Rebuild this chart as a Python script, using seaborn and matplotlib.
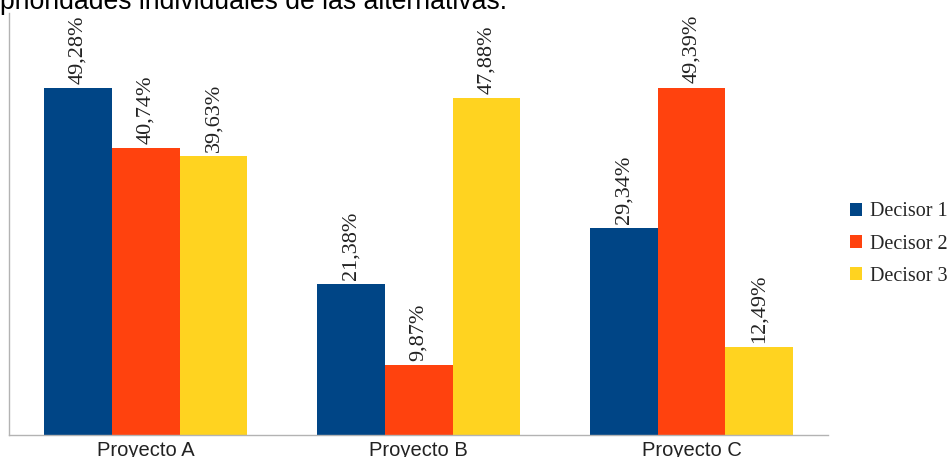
import matplotlib
matplotlib.use("Agg")
import matplotlib.pyplot as plt
from matplotlib.patches import Patch
import seaborn as sns
import pandas as pd

proyectos = ["Proyecto A", "Proyecto B", "Proyecto C"]
decisores = ["Decisor 1", "Decisor 2", "Decisor 3"]
decisor_1 = [49.28, 21.38, 29.34]
decisor_2 = [40.74, 9.87, 49.39]
decisor_3 = [39.63, 47.88, 12.49]
colores = ["#004586", "#ff420e", "#ffd320"]
titulo = "prioridades individuales de las alternativas."

sns.set_style("white")
plt.rcParams["font.family"] = ["Liberation Sans", "DejaVu Sans"]

rows = []
for dec, vals in zip(decisores, [decisor_1, decisor_2, decisor_3]):
    for p, v in zip(proyectos, vals):
        rows.append({"proyecto": p, "decisor": dec, "valor": v})
df = pd.DataFrame(rows)

fig = plt.figure(figsize=(9.5, 4.57), dpi=100)
ax = fig.add_axes([9.3 / 950, 22.5 / 457, (828 - 9.3) / 950, (434.5 - 13) / 457])

sns.barplot(data=df, x="proyecto", y="valor", hue="decisor", order=proyectos,
            hue_order=decisores, palette=colores, width=0.745, saturation=1,
            linewidth=0, legend=False, ax=ax, errorbar=None)

for cont, vals in zip(ax.containers, [decisor_1, decisor_2, decisor_3]):
    labs = [f"{v:.2f}".replace(".", ",") + "%" for v in vals]
    ax.bar_label(cont, labels=labs, rotation=90, padding=3, fontsize=16,
                 family=["Liberation Serif", "DejaVu Serif"], color="#222222")

ax.set_xlim(-0.5, 2.5)
ax.set_ylim(0, 60)
ax.set_xlabel("")
ax.set_ylabel("")
ax.set_yticks([])
ax.set_xticks([-0.5, 0.5, 1.5, 2.5])
ax.set_xticklabels([])
ax.set_xticks([0, 1, 2], minor=True)
ax.set_xticklabels(proyectos, minor=True)
ax.tick_params(axis="x", which="major", length=6, width=1, color="#b3b3b3", direction="out")
ax.tick_params(axis="x", which="minor", length=0, pad=5, labelsize=14.5, labelcolor="#222222")
for s in ["top", "right"]:
    ax.spines[s].set_visible(False)
for s in ["left", "bottom"]:
    ax.spines[s].set_color("#b3b3b3")
    ax.spines[s].set_linewidth(1)

handles = [Patch(facecolor=c, edgecolor="none") for c in colores]
fig.legend(handles, decisores, loc="center left", bbox_to_anchor=(850 / 950, 1 - 244 / 457),
           frameon=False, handlelength=0.6, handleheight=0.6, handletextpad=0.4,
           labelspacing=0.65, borderpad=0, borderaxespad=0,
           prop={"family": ["Liberation Serif", "DejaVu Serif"], "size": 14.5})

fig.text(0, 1 - 9 / 457, titulo, fontsize=19.2, va="baseline", ha="left", color="#000000")

fig.savefig("out.png", dpi=100)
